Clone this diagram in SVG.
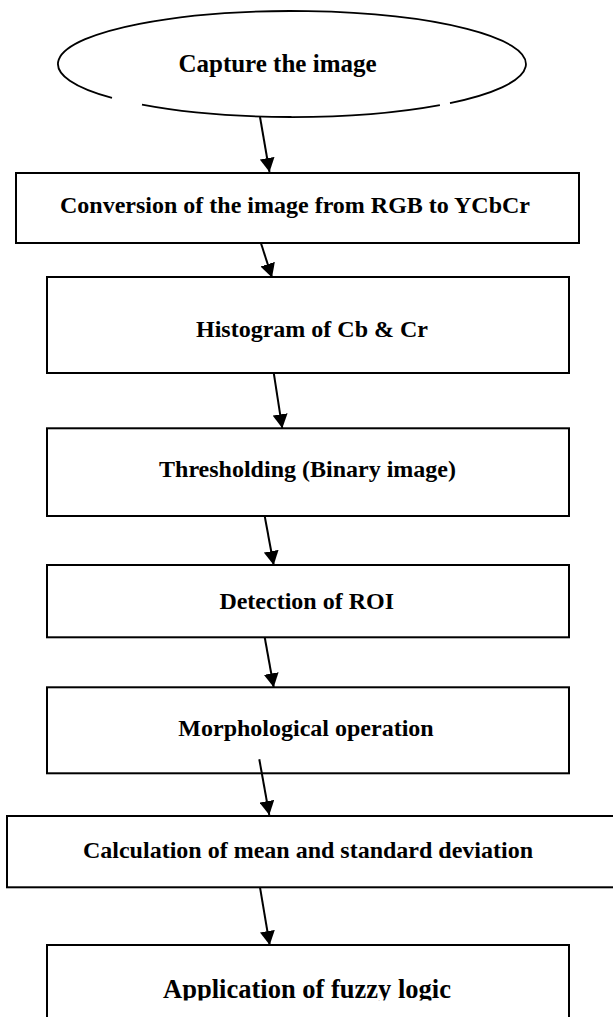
<svg xmlns="http://www.w3.org/2000/svg" width="613" height="1017" viewBox="0 0 613 1017">
<style>
.box{fill:#fff;stroke:#000;stroke-width:2}
.oval{fill:none;stroke:#000;stroke-width:1.8}
.lbl{font-family:"Liberation Serif","Times New Roman",serif;font-weight:bold;font-size:24px;fill:#000;text-anchor:middle}
.conn{stroke:#000;stroke-width:2;fill:none;marker-end:url(#ah)}
</style>
<defs>
<marker id="ah" markerUnits="userSpaceOnUse" markerWidth="15" markerHeight="15" refX="14" refY="7.5" orient="auto">
<path d="M0,0 L14,7.5 L0,15 z" fill="#000"/>
</marker>
<clipPath id="clipApp"><rect x="0" y="940" width="613" height="60.5"/></clipPath>
</defs>
<rect width="613" height="1017" fill="#fff"/>
<g id="n-capture">
<path class="oval" d="M142,104.7 A234,53 0 0 0 439.9,105.1"/>
<path class="oval" d="M450,103.1 A234,53 0 1 0 112,97.9"/>
<text class="lbl" x="277.5" y="71.7" style="font-size:25px">Capture the image</text>
</g>
<g id="n-conversion">
<rect class="box" x="16" y="173" width="563" height="70"/>
<text class="lbl" x="295" y="213.3">Conversion of the image from RGB to YCbCr</text>
</g>
<g id="n-histogram">
<rect class="box" x="47" y="277" width="522" height="96"/>
<text class="lbl" x="312" y="336.7">Histogram of Cb &amp; Cr</text>
</g>
<g id="n-threshold">
<rect class="box" x="47" y="428.3" width="522" height="87.7"/>
<text class="lbl" x="307.5" y="477">Thresholding (Binary image)</text>
</g>
<g id="n-detection">
<rect class="box" x="47" y="565" width="522" height="72.3"/>
<text class="lbl" x="306.7" y="609.3">Detection of ROI</text>
</g>
<g id="n-morph">
<rect class="box" x="47" y="687.3" width="522" height="86"/>
<text class="lbl" x="306" y="736">Morphological operation</text>
</g>
<g id="n-calc">
<rect class="box" x="7" y="816" width="620" height="71.3"/>
<text class="lbl" x="308" y="858">Calculation of mean and standard deviation</text>
</g>
<g id="n-fuzzy">
<rect class="box" x="47" y="945" width="522" height="90"/>
<text class="lbl" x="307" y="998" style="font-size:26.5px" clip-path="url(#clipApp)">Application of fuzzy logic</text>
</g>
<g id="connectors">
<line class="conn" x1="260" y1="117" x2="269.5" y2="172"/>
<line class="conn" x1="261" y1="243.3" x2="272" y2="277.5"/>
<line class="conn" x1="273.7" y1="372.7" x2="282.3" y2="428.3"/>
<line class="conn" x1="264.7" y1="516" x2="273.7" y2="565"/>
<line class="conn" x1="264.7" y1="637.3" x2="273.7" y2="687.3"/>
<line class="conn" x1="259.3" y1="759.3" x2="269.3" y2="815"/>
<line class="conn" x1="260" y1="887.3" x2="269.7" y2="945"/>
</g>
</svg>
